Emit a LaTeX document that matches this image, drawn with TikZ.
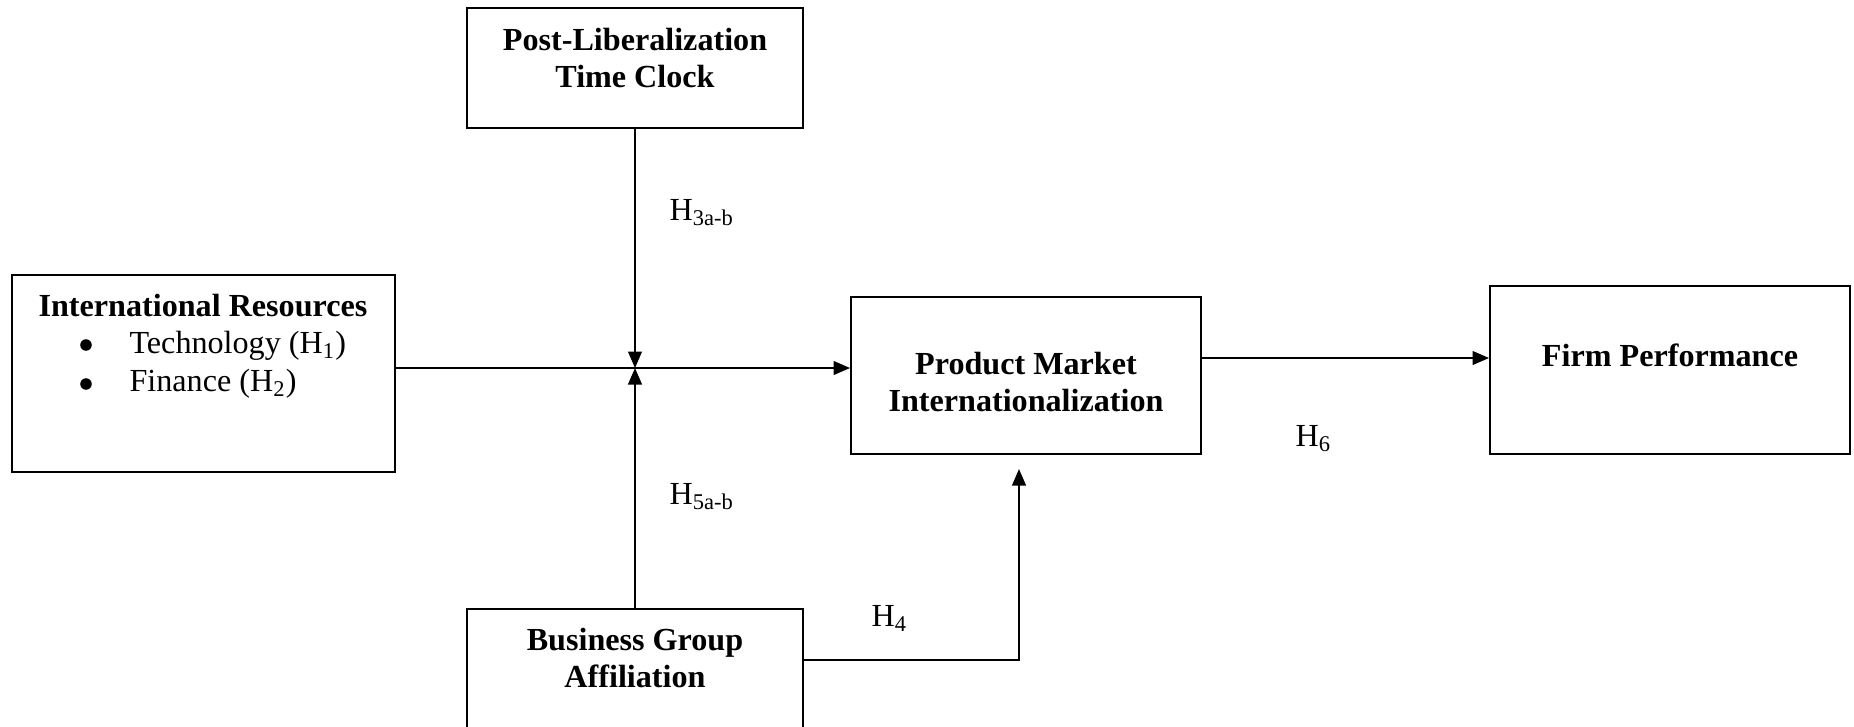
\documentclass[tikz,border=0pt]{standalone}
\usepackage{fontspec}
\setmainfont{Liberation Serif}
\usetikzlibrary{arrows.meta,fit}
\begin{document}
\begin{tikzpicture}[x=0.364pt,y=-0.364pt,
  box/.style={draw, line width=0.7pt, inner sep=0pt},
  title/.style={font=\fontsize{11.7}{13.8}\selectfont\bfseries, align=center, inner sep=0pt},
  txt/.style={font=\fontsize{11.7}{13.8}\selectfont, inner sep=0pt},
  lbl/.style={txt, anchor=west},
  dot/.style={circle, fill=black, inner sep=0pt, minimum size=4.2pt},
  conn/.style={line width=0.7pt},
  arr/.style={conn, -{Triangle[length=6pt,width=5pt]}}]
\clip (0,0) rectangle (1854,726);
% boxes
\node[box, fit={(12,275) (395,472)}] (ir) {};
\node[box, fit={(467,8) (803,128)}] (pl) {};
\node[box, fit={(851,297) (1201,454)}] (pmi) {};
\node[box, fit={(1490,286) (1850,454)}] (fp) {};
\node[box, fit={(467,609) (803,760)}] (bga) {};
% texts
\node[title] (irT) at (203,306) {International Resources};
\node[dot] (b1) at (86,345) {};
\node[dot] (b2) at (86,384) {};
\node[lbl] (t1) at (129,346) {Technology (H\textsubscript{1})};
\node[lbl] (t2) at (129,384) {Finance (H\textsubscript{2})};
\node[title] (plT) at (635,58) {Post-Liberalization\\Time Clock};
\node[title] (pmiT) at (1026,382) {Product Market\\Internationalization};
\node[title] (fpT) at (1670,355) {Firm Performance};
\node[title] (bgaT) at (635,658) {Business Group\\Affiliation};
% labels
\node[lbl] (h3) at (669,213) {H\textsubscript{3a-b}};
\node[lbl] (h5) at (669,497) {H\textsubscript{5a-b}};
\node[lbl] (h4) at (871,618) {H\textsubscript{4}};
\node[lbl] (h6) at (1295,439) {H\textsubscript{6}};
% coordinates
\coordinate (j) at (635,368);
\coordinate (k) at (1300,358);
\coordinate (c4) at (1019,660);
\coordinate (t4) at (1019,469);
% connectors
\draw[arr] (pl.south) -- (pl.south |- j);
\draw[arr] (bga.north) -- (bga.north |- j);
\draw[arr] (ir.east |- j) -- (pmi.west |- j);
\draw[arr] (pmi.east |- k) -- (fp.west |- k);
\draw[arr] (bga.east |- c4) -- (c4) -- (t4);
\end{tikzpicture}
\end{document}
